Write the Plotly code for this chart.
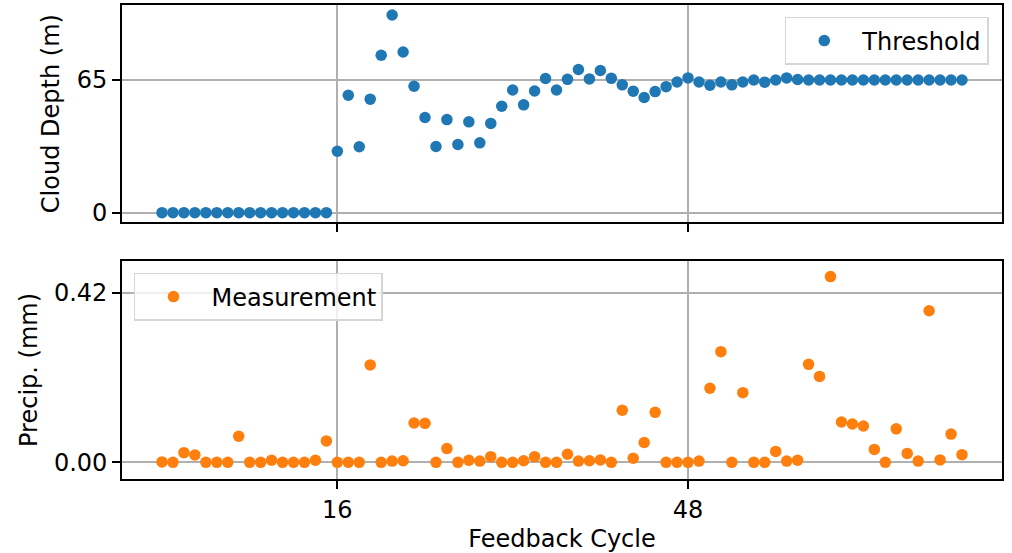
import plotly.graph_objects as go
from plotly.subplots import make_subplots

cycles = list(range(74))

threshold = [0]*16 + [
    30.1, 57.5, 32.3, 55.6, 77.1, 96.8, 78.7, 61.9, 46.6, 32.4,
    45.6, 33.4, 44.5, 34.2, 43.7, 52.1, 60.1, 52.8, 59.6, 65.7,
    60.1, 65.3, 70.1, 65.5, 69.6, 65.8, 62.6, 59.5, 56.4, 59.3,
    61.7, 64.0, 66.0, 64.0, 62.4, 64.0, 62.6, 64.0, 65.0, 63.9,
    65.0, 66.0, 65.2, 65.0, 65.0, 65.0, 65.0, 65.0, 65.0, 65.0,
    65.0, 65.0, 65.0, 65.0, 65.0, 65.0, 65.0, 65.0]

measurement = [
    0.001, 0.0, 0.024, 0.018, 0.0, 0.0, 0.0, 0.0645, 0.0, 0.0,
    0.005, 0.0, 0.0, 0.0, 0.005, 0.053, 0.0, 0.0, 0.0, 0.2415,
    0.0, 0.003, 0.004, 0.0976, 0.0967, 0.0, 0.034, 0.0, 0.005, 0.003,
    0.014, 0.0, 0.0, 0.004, 0.014, 0.0, 0.0, 0.020, 0.003, 0.004,
    0.006, 0.0, 0.129, 0.010, 0.049, 0.124, 0.0, 0.0, 0.0, 0.003,
    0.1836, 0.2745, 0.0, 0.1728, 0.0, 0.0, 0.027, 0.003, 0.005, 0.243,
    0.213, 0.4606, 0.100, 0.095, 0.090, 0.032, 0.0, 0.083, 0.022, 0.003,
    0.376, 0.006, 0.070, 0.019]

top_ticks = [0, 65]
top_ticklabels = ["0", "65"]
bot_ticks = [0.0, 0.42]
bot_ticklabels = ["0.00", "0.42"]
x_ticks = [16, 48]
x_ticklabels = ["16", "48"]

FONT = "DejaVu Sans"
FS = 24
BLUE = "#1f77b4"
ORANGE = "#ff7f0e"
GRID = "#b0b0b0"

fig = make_subplots(rows=2, cols=1, shared_xaxes=True, vertical_spacing=0.0816)

fig.add_trace(go.Scatter(x=cycles, y=threshold, mode="markers", name="Threshold",
                         marker=dict(color=BLUE, size=11.5), legend="legend", showlegend=True),
              row=1, col=1)
fig.add_trace(go.Scatter(x=cycles, y=measurement, mode="markers", name="Measurement",
                         marker=dict(color=ORANGE, size=11.5), legend="legend2", showlegend=True),
              row=2, col=1)

axis_common = dict(showline=True, linecolor="black", linewidth=1.6, mirror=True,
                   showgrid=True, gridcolor=GRID, gridwidth=1.6, zeroline=False,
                   ticks="outside", ticklen=8, tickwidth=1.6, tickcolor="black",
                   tickfont=dict(family=FONT, size=FS, color="black"))

fig.update_xaxes(range=[-3.65, 76.65], tickvals=x_ticks, ticktext=x_ticklabels, **axis_common)
fig.update_xaxes(showticklabels=False, row=1, col=1)
fig.update_xaxes(title=dict(text="Feedback Cycle", font=dict(family=FONT, size=FS, color="black"), standoff=8),
                 row=2, col=1)
fig.update_yaxes(range=[-4.7, 101.7], tickvals=top_ticks, ticktext=top_ticklabels,
                 title=dict(text="Cloud Depth (m)", font=dict(family=FONT, size=FS, color="black"), standoff=10),
                 row=1, col=1, **axis_common)
fig.update_yaxes(range=[-0.0414, 0.4994], tickvals=bot_ticks, ticktext=bot_ticklabels,
                 title=dict(text="Precip. (mm)", font=dict(family=FONT, size=FS, color="black"), standoff=10),
                 row=2, col=1, **axis_common)

fig.update_layout(
    width=1012, height=553,
    margin=dict(l=122, r=10, t=5, b=74, autoexpand=False),
    paper_bgcolor="white", plot_bgcolor="white",
    showlegend=True,
    font=dict(family=FONT, size=FS, color="black"),
    legend=dict(x=0.985, y=0.9747, xanchor="right", yanchor="top",
                bordercolor="#d6d6d6", borderwidth=1.5, bgcolor="rgba(255,255,255,0.8)",
                itemwidth=66, font=dict(family=FONT, size=FS, color="black")),
    legend2=dict(x=0.0136, y=0.4346, xanchor="left", yanchor="top",
                 bordercolor="#d6d6d6", borderwidth=1.5, bgcolor="rgba(255,255,255,0.8)",
                 itemwidth=66, font=dict(family=FONT, size=FS, color="black")),
)
fig.update_yaxes(domain=[0.5416, 1.0], row=1, col=1)
fig.update_yaxes(domain=[0.0, 0.46], row=2, col=1)

fig.write_html("out.html", config={"displayModeBar": False},
               post_script="document.body.style.margin='0';document.body.style.padding='0';")
